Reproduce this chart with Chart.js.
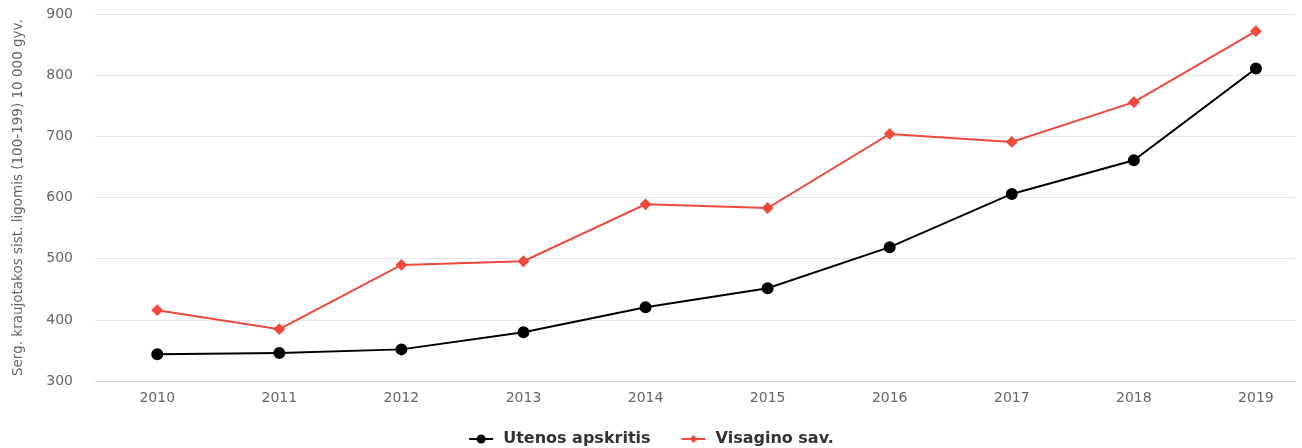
<!DOCTYPE html>
<html>
<head>
<meta charset="utf-8">
<script src="https://cdn.jsdelivr.net/npm/chart.js@4"></script>
<style>
  html, body { margin: 0; padding: 0; background: #fff; }
  #wrap { width: 1302px; height: 448px; }
</style>
</head>
<body>
<div id="wrap"><canvas id="lineChart" width="1302" height="448"></canvas></div>
<script>
const years = [2010, 2011, 2012, 2013, 2014, 2015, 2016, 2017, 2018, 2019];
const utenos = [344, 346, 352, 380, 421, 452, 519, 606, 661, 811];
const visagino = [416, 385, 490, 496, 589, 583, 704, 691, 756, 872];
const yTicks = [300, 400, 500, 600, 700, 800, 900];

const axisTitle = 'Serg. kraujotakos sist. ligomis (100-199) 10 000 gyv.';
const fontFamily = '"DejaVu Sans", sans-serif';

// legend symbol: short line with marker, placed at the right side of the box
function legendSymbol(color, style) {
    const c = document.createElement('canvas');
    c.width = 34;
    c.height = 12;
    const g = c.getContext('2d');
    g.strokeStyle = color;
    g.fillStyle = color;
    g.lineWidth = 2;
    g.beginPath();
    g.moveTo(8, 6);
    g.lineTo(32, 6);
    g.stroke();
    g.beginPath();
    if (style === 'circle') {
        g.arc(20, 6, 4.5, 0, Math.PI * 2);
    } else {
        g.moveTo(20, 2);
        g.lineTo(24, 6);
        g.lineTo(20, 10);
        g.lineTo(16, 6);
        g.closePath();
    }
    g.fill();
    return c;
}

function toPoints(values) {
    return values.map((v, i) => ({ x: years[i], y: v }));
}

function createChart() {
    const ctx = document.getElementById('lineChart');
    new Chart(ctx, {
        type: 'line',
        data: {
            datasets: [{
                label: 'Utenos apskritis',
                data: toPoints(utenos),
                borderColor: '#000000',
                backgroundColor: '#000000',
                borderWidth: 2,
                pointStyle: 'circle',
                pointRadius: 5,
                pointHoverRadius: 5,
                legendImage: legendSymbol('#000000', 'circle')
            }, {
                label: 'Visagino sav.',
                data: toPoints(visagino),
                borderColor: '#f0483c',
                backgroundColor: '#f0483c',
                borderWidth: 2,
                pointStyle: 'rectRot',
                pointRadius: 4.5,
                pointHoverRadius: 4.5,
                legendImage: legendSymbol('#f0483c', 'diamond')
            }]
        },
        options: {
            responsive: false,
            animation: false,
            layout: {
                padding: { top: 14, right: 7, bottom: -9, left: 0 }
            },
            scales: {
                x: {
                    type: 'linear',
                    min: 2009.49,
                    max: 2019.32,
                    afterBuildTicks: scale => {
                        scale.ticks = years.map(y => ({ value: y }));
                    },
                    grid: { display: false },
                    border: { color: '#ccd6eb', width: 1 },
                    ticks: {
                        color: '#666666',
                        font: { family: fontFamily, size: 14 },
                        padding: 1,
                        callback: v => String(v)
                    }
                },
                y: {
                    min: 300,
                    max: 900,
                    afterBuildTicks: scale => {
                        scale.ticks = yTicks.map(v => ({ value: v }));
                    },
                    afterFit: scale => {
                        scale.width = 95;
                        scale.paddingTop = 0;
                        scale.paddingBottom = 0;
                    },
                    grid: { color: '#e6e6e6', drawTicks: false },
                    border: { display: false },
                    ticks: {
                        color: '#666666',
                        font: { family: fontFamily, size: 14 },
                        padding: 22
                    },
                    title: {
                        display: true,
                        text: axisTitle,
                        color: '#666666',
                        font: { family: fontFamily, size: 13.5 },
                        padding: { top: 10, bottom: 0 }
                    }
                }
            },
            plugins: {
                legend: {
                    position: 'bottom',
                    labels: {
                        color: '#333333',
                        font: { family: fontFamily, size: 16, weight: 'bold' },
                        usePointStyle: true,
                        pointStyleWidth: 34,
                        padding: 23,
                        generateLabels: chart => chart.data.datasets.map((ds, i) => ({
                            text: ds.label,
                            pointStyle: ds.legendImage,
                            fillStyle: ds.borderColor,
                            strokeStyle: ds.borderColor,
                            fontColor: '#333333',
                            datasetIndex: i,
                            hidden: false
                        }))
                    }
                },
                tooltip: { enabled: false }
            }
        }
    });
}

window.onload = createChart;
</script>
</body>
</html>
